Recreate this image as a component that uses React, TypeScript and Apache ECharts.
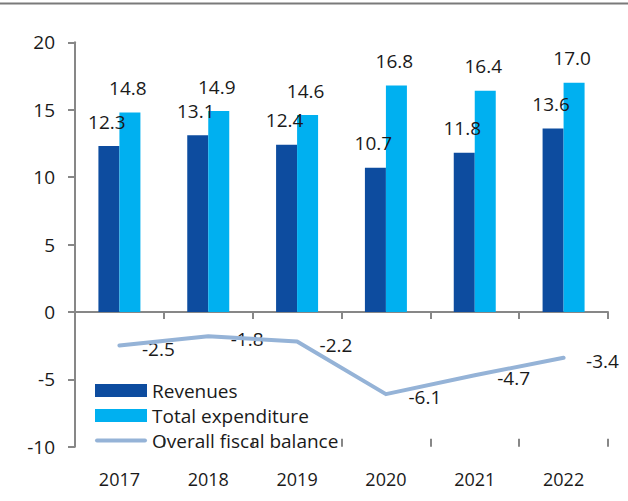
import React, { useEffect, useRef } from "react";
import * as echarts from "echarts";

const categories = ["2017", "2018", "2019", "2020", "2021", "2022"];
const revenues = [12.3, 13.1, 12.4, 10.7, 11.8, 13.6];
const expenditure = [14.8, 14.9, 14.6, 16.8, 16.4, 17.0];
const balance = [-2.5, -1.8, -2.2, -6.1, -4.7, -3.4];
const seriesNames = ["Revenues", "Total expenditure", "Overall fiscal balance"];

const FONT = "'Open Sans', 'Noto Sans', sans-serif";

export default function App() {
  const ref = useRef<HTMLDivElement>(null);
  useEffect(() => {
    if (!ref.current) return;
    const chart = echarts.init(ref.current, undefined, { renderer: "svg" });
    const axisGray = "#878787";
    const lineColor = "#95B3D7";
    chart.setOption({
      animation: false,
      backgroundColor: "#ffffff",
      textStyle: { fontFamily: FONT, color: "#1a1a1a" },
      grid: { left: 75, right: 20, top: 42.3, bottom: 54.3, containLabel: false },
      legend: {
        orient: "vertical",
        left: 95,
        top: 381,
        padding: 0,
        itemWidth: 52,
        itemHeight: 13,
        itemGap: 6,
        symbolKeepAspect: true,
        textStyle: { fontFamily: FONT, fontSize: 19, lineHeight: 19, color: "#1a1a1a" },
        data: [
          { name: seriesNames[0], icon: "rect" },
          { name: seriesNames[1], icon: "rect" },
          { name: seriesNames[2], icon: "path://M2,0H50A2,2,0,0,1,50,4H2A2,2,0,0,1,2,0Z" },
        ],
      },
      xAxis: [
        {
          type: "category",
          data: categories,
          position: "bottom",
          axisLine: { show: true, onZero: true, lineStyle: { color: axisGray, width: 2 } },
          axisTick: { show: true, inside: false, length: 7, lineStyle: { color: axisGray, width: 2 } },
          axisLabel: { show: false },
        },
        {
          type: "category",
          data: categories,
          position: "bottom",
          axisLine: { show: false, onZero: true },
          axisTick: { show: true, inside: true, length: 8, lineStyle: { color: axisGray, width: 2 } },
          axisLabel: { show: false },
        },
        {
          type: "category",
          data: categories,
          position: "bottom",
          axisLine: { show: false, onZero: false },
          axisTick: { show: false },
          axisLabel: { show: true, margin: 23, fontFamily: FONT, fontSize: 18, color: "#1a1a1a" },
        },
      ],
      yAxis: {
        type: "value",
        min: -10,
        max: 20,
        interval: 5,
        splitLine: { show: false },
        axisLine: { show: true, lineStyle: { color: axisGray, width: 2 } },
        axisTick: { show: true, length: 7, lineStyle: { color: axisGray, width: 2 } },
        axisLabel: { margin: 20, fontFamily: FONT, fontSize: 19, color: "#1a1a1a" },
      },
      series: [
        {
          name: seriesNames[0],
          type: "bar",
          data: revenues,
          barWidth: 21,
          barGap: "0%",
          itemStyle: { color: "#0D4C9F" },
          label: {
            show: true,
            position: "top",
            distance: 15,
            offset: [-2, 0],
            fontFamily: FONT,
            fontSize: 19,
            color: "#1a1a1a",
            formatter: (p: any) => p.value.toFixed(1),
          },
        },
        {
          name: seriesNames[1],
          type: "bar",
          data: expenditure,
          barWidth: 21,
          barGap: "0%",
          itemStyle: { color: "#00B0F0" },
          label: {
            show: true,
            position: "top",
            distance: 15,
            offset: [-2, 0],
            fontFamily: FONT,
            fontSize: 19,
            color: "#1a1a1a",
            formatter: (p: any) => p.value.toFixed(1),
          },
        },
        {
          name: seriesNames[2],
          type: "line",
          data: balance,
          symbol: "none",
          lineStyle: { color: lineColor, width: 4, cap: "round", join: "round" },
          itemStyle: { color: lineColor },
        },
        {
          name: "balanceLabels",
          type: "scatter",
          data: balance,
          symbolSize: 1,
          itemStyle: { color: "rgba(255,255,255,0)", opacity: 1 },
          silent: true,
          label: {
            show: true,
            position: "right",
            distance: 22,
            offset: [0, 3],
            fontFamily: FONT,
            fontSize: 19,
            color: "#1a1a1a",
            opacity: 1,
            formatter: (p: any) => p.value.toFixed(1),
          },
        },
      ],
      graphic: [
        {
          type: "line",
          shape: { x1: 0, y1: 3.5, x2: 628, y2: 3.5 },
          style: { stroke: "#7a7a7a", lineWidth: 2 },
        },
      ],
    });
    return () => chart.dispose();
  }, []);
  return (
    <div
      ref={ref}
      style={{ position: "fixed", left: 0, top: 0, width: 628, height: 501, background: "#fff" }}
    />
  );
}
